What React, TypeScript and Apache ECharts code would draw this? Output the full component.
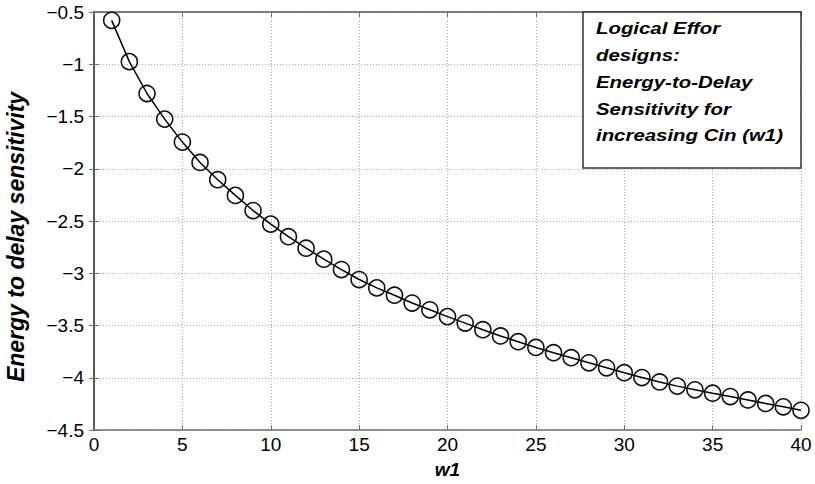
import React, { useEffect, useRef } from "react";
import * as echarts from "echarts";

const w1Values = [
  1, 2, 3, 4, 5, 6, 7, 8, 9, 10, 11, 12, 13, 14, 15, 16, 17, 18, 19, 20,
  21, 22, 23, 24, 25, 26, 27, 28, 29, 30, 31, 32, 33, 34, 35, 36, 37, 38, 39, 40,
];
const sensitivity = [
  -0.58, -0.975, -1.28, -1.525, -1.745, -1.94, -2.105, -2.255, -2.4, -2.53,
  -2.65, -2.76, -2.865, -2.965, -3.06, -3.14, -3.21, -3.285, -3.35, -3.415,
  -3.477, -3.54, -3.6, -3.655, -3.71, -3.76, -3.808, -3.857, -3.905, -3.952,
  -3.998, -4.04, -4.08, -4.115, -4.148, -4.18, -4.212, -4.246, -4.278, -4.312,
];
const legendLines = [
  "Logical Effor",
  "designs:",
  "Energy-to-Delay",
  "Sensitivity for",
  "increasing Cin (w1)",
];
const xTitle = "w1";
const yTitle = "Energy to delay sensitivity";

const FONT = "'Liberation Sans', Arial, Helvetica, sans-serif";
const AXIS_COLOR = "#6e6e6e";

export default function App() {
  const ref = useRef<HTMLDivElement>(null);
  useEffect(() => {
    if (!ref.current) return;
    const chart = echarts.init(ref.current, null, { renderer: "svg" });
    const fmt = (v: number) => (v < 0 ? "\u2212" : "") + String(Math.abs(v));
    const common = {
      axisLine: { show: true, lineStyle: { color: AXIS_COLOR, width: 1.5 } },
      axisTick: { show: true, inside: true, length: 5, lineStyle: { color: AXIS_COLOR, width: 1 } },
    };
    chart.setOption({
      animation: false,
      backgroundColor: "#fff",
      grid: { left: 94, right: 14, top: 12, bottom: 53, containLabel: false },
      xAxis: [
        {
          type: "value",
          min: 0,
          max: 40,
          interval: 5,
          position: "bottom",
          ...common,
          axisLabel: { color: "#000", fontSize: 19, fontFamily: FONT, margin: 5 },
          splitLine: { show: true, lineStyle: { color: "#a8a8a8", type: [1, 2], width: 1 } },
          name: xTitle,
          nameLocation: "middle",
          nameGap: 30,
          nameTextStyle: { color: "#000", fontSize: 19, fontStyle: "italic", fontWeight: "bold", fontFamily: FONT },
        },
        {
          type: "value",
          min: 0,
          max: 40,
          interval: 5,
          position: "top",
          ...common,
          axisLine: { show: true, lineStyle: { color: "#555", width: 1.5 } },
          axisLabel: { show: false },
          splitLine: { show: false },
        },
      ],
      yAxis: [
        {
          type: "value",
          min: -4.5,
          max: -0.5,
          interval: 0.5,
          position: "left",
          ...common,
          axisLabel: { color: "#000", fontSize: 19, fontFamily: FONT, margin: 10, formatter: fmt },
          splitLine: { show: true, lineStyle: { color: "#a8a8a8", type: [1, 2], width: 1 } },
        },
        {
          type: "value",
          min: -4.5,
          max: -0.5,
          interval: 0.5,
          position: "right",
          ...common,
          axisLine: { show: true, lineStyle: { color: "#444", width: 1.5 } },
          axisLabel: { show: false },
          splitLine: { show: false },
        },
      ],
      series: [
        {
          type: "line",
          xAxisIndex: 0,
          yAxisIndex: 0,
          data: w1Values.map((w, i) => [w, sensitivity[i]]),
          symbol: "circle",
          symbolSize: 16,
          showAllSymbol: true,
          lineStyle: { color: "#000", width: 1.5 },
          itemStyle: { color: "rgba(0,0,0,0)", borderColor: "#111", borderWidth: 1.6 },
          clip: false,
          z: 5,
        },
      ],
      graphic: [
        {
          type: "rect",
          shape: { x: 583, y: 12, width: 218, height: 156 },
          style: { fill: "#fff", stroke: "#333", lineWidth: 1.5 },
          z: 10,
        },
        {
          type: "text",
          x: 596,
          y: 15,
          scaleX: 1.2,
          z: 11,
          style: {
            text: legendLines.join("\n"),
            font: `italic bold 17px ${FONT}`,
            fill: "#000",
            lineHeight: 26.75,
            align: "left",
            verticalAlign: "top",
          },
        },
        {
          type: "text",
          x: 16,
          y: 237,
          rotation: Math.PI / 2,
          z: 11,
          style: {
            text: yTitle,
            font: `italic bold 23px ${FONT}`,
            fill: "#000",
            align: "center",
            verticalAlign: "middle",
          },
        },
      ],
    });
    return () => chart.dispose();
  }, []);
  return <div ref={ref} style={{ width: 815, height: 484, position: "absolute", left: 0, top: 0 }} />;
}
